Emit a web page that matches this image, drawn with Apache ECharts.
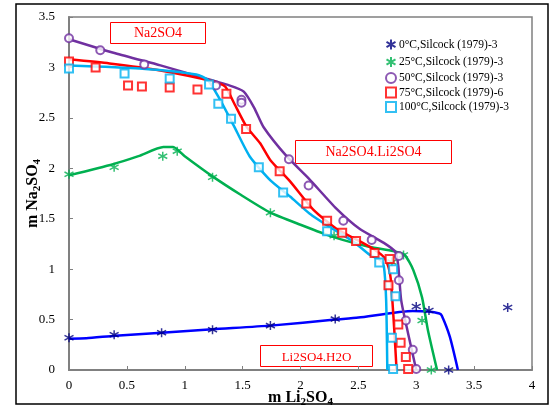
<!DOCTYPE html>
<html>
<head>
<meta charset="utf-8">
<script src="https://cdn.jsdelivr.net/npm/echarts@6/dist/echarts.min.js"></script>
<style>
  html, body { margin: 0; padding: 0; background: #fff; }
  #chart { width: 555px; height: 412px; }
</style>
</head>
<body>
<div id="chart"></div>
<script>
// 图例名称
var names = [
  "0°C,Silcock (1979)-3",
  "25°C,Silcock (1979)-3",
  "50°C,Silcock (1979)-3",
  "75°C,Silcock (1979)-6",
  "100°C,Silcock (1979)-3"
];

// 实验点 [m Li2SO4, m Na2SO4]
var pts0 = [[0,0.32],[0.39,0.35],[0.8,0.37],[1.24,0.40],[1.74,0.44],[2.3,0.505],[3.0,0.63],[3.11,0.59],[3.28,0],[3.79,0.62]];
var pts25 = [[0,1.94],[0.39,2.01],[0.81,2.12],[0.935,2.17],[1.24,1.91],[1.74,1.56],[2.29,1.33],[2.79,1.07],[2.89,1.14],[3.05,0.49],[3.13,0]];
var pts50 = [[0,3.29],[0.27,3.17],[0.65,3.03],[1.27,2.82],[1.49,2.68],[1.49,2.65],[1.9,2.09],[2.07,1.83],[2.37,1.48],[2.615,1.29],[2.85,1.13],[2.85,0.89],[2.91,0.49],[2.97,0.2],[3.0,0.01]];
var pts75 = [[0,3.06],[0.23,3.0],[0.51,2.82],[0.63,2.81],[0.87,2.8],[1.11,2.78],[1.36,2.74],[1.53,2.39],[1.82,1.97],[2.05,1.65],[2.23,1.48],[2.36,1.36],[2.48,1.28],[2.64,1.16],[2.77,1.1],[2.76,0.84],[2.845,0.45],[2.865,0.27],[2.91,0.13],[2.93,0.01]];
var pts100 = [[0,2.99],[0.48,2.94],[0.87,2.89],[1.21,2.83],[1.29,2.64],[1.40,2.49],[1.64,2.01],[1.85,1.76],[2.23,1.375],[2.68,1.065],[2.80,1.0],[2.82,0.73],[2.79,0.32],[2.80,0.01]];

// 计算曲线
var line0 = [[0,0.31],[0.15,0.315],[0.4,0.34],[0.8,0.37],[1.24,0.405],[1.74,0.44],[2.3,0.5],[2.5,0.52],[2.97,0.585],[3.1,0.58],[3.2,0.56],[3.22,0.54],[3.29,0.33],[3.36,0]];
var line25 = [[0,1.93],[0.38,2.04],[0.6,2.12],[0.815,2.21],[0.9,2.21],[1.0,2.12],[1.24,1.92],[1.48,1.74],[1.74,1.56],[2.0,1.44],[2.28,1.32],[2.6,1.22],[2.8,1.18],[2.9,1.14],[2.975,0.99],[3.05,0.72],[3.10,0.40],[3.18,0]];
var line50 = [[0,3.28],[0.4,3.14],[0.79,3.02],[1.0,2.95],[1.39,2.82],[1.51,2.76],[1.6,2.6],[1.68,2.41],[1.88,2.12],[2.07,1.9],[2.31,1.60],[2.51,1.40],[2.72,1.26],[2.82,1.17],[2.845,1.03],[2.87,0.69],[2.93,0.36],[3.0,0]];
var line75 = [[0,3.08],[0.35,3.04],[0.79,2.97],[1.25,2.86],[1.35,2.81],[1.42,2.66],[1.535,2.41],[1.65,2.25],[1.74,2.08],[1.91,1.87],[2.11,1.59],[2.31,1.40],[2.49,1.29],[2.63,1.20],[2.72,1.12],[2.76,1.02],[2.78,0.9],[2.81,0.4],[2.83,0]];
var line100 = [[0,3.02],[0.61,2.99],[1.1,2.93],[1.2,2.875],[1.3,2.69],[1.42,2.43],[1.56,2.12],[1.74,1.88],[1.91,1.72],[2.08,1.55],[2.25,1.42],[2.46,1.27],[2.6,1.14],[2.69,1.09],[2.72,1.03],[2.74,0.69],[2.75,0]];

var markColors = ["#000080", "#00B050", "#7030A0", "#FF0000", "#00B0F0"];
var lineColors = ["#0000FF", "#00B050", "#7030A0", "#FF0000", "#00B0F0"];
var allPts = [pts0, pts25, pts50, pts75, pts100];
var allLines = [line0, line25, line50, line75, line100];

var star = "path://M0,-5L0,5M-4.5,-2.6L4.5,2.6M-4.5,2.6L4.5,-2.6";
var symbols = [star, star, "emptyCircle", "emptyRect", "emptyRect"];

var serif = "Liberation Serif";

var myChart = echarts.init(document.getElementById("chart"));

var series = [];
allLines.forEach(function (d, i) {
  series.push({
    type: "line",
    data: d,
    showSymbol: false,
    symbol: "none",
    smooth: 0.2,
    lineStyle: { color: lineColors[i], width: 2.5 },
    z: 2,
    silent: true
  });
});
allPts.forEach(function (d, i) {
  var isStar = i < 2;
  series.push({
    name: names[i],
    type: "scatter",
    data: d,
    symbol: symbols[i],
    symbolSize: isStar ? 9 : 8,
    itemStyle: isStar
      ? { color: "none", borderColor: markColors[i], borderWidth: 1.5 }
      : { color: markColors[i], borderWidth: 1.2 },
    z: 3
  });
});

var nameRich = {
  b: { fontFamily: serif, fontSize: 16, fontWeight: "bold", color: "#000", lineHeight: 20 },
  s: { fontFamily: serif, fontSize: 11, fontWeight: "bold", color: "#000", lineHeight: 20, padding: [9, 0, 0, 0] }
};

option = {
  animation: false,
  textStyle: { fontFamily: serif },
  graphic: [
    {
      type: "rect",
      shape: { x: 16, y: 4, width: 532, height: 400 },
      style: { fill: "none", stroke: "#000", lineWidth: 1.5 },
      z: 0
    },
    {
      type: "group", left: 110, top: 22, z: 10,
      children: [
        { type: "rect", shape: { x: 0, y: 0, width: 95, height: 21 }, style: { fill: "#fff", stroke: "#FF0000", lineWidth: 1 } },
        { type: "text", x: 47.5, y: 11, style: { text: "Na2SO4", fill: "#FF0000", font: "14px " + serif, align: "center", verticalAlign: "middle" } }
      ]
    },
    {
      type: "group", left: 295, top: 140, z: 10,
      children: [
        { type: "rect", shape: { x: 0, y: 0, width: 156, height: 23 }, style: { fill: "#fff", stroke: "#FF0000", lineWidth: 1 } },
        { type: "text", x: 78, y: 12, style: { text: "Na2SO4.Li2SO4", fill: "#FF0000", font: "14px " + serif, align: "center", verticalAlign: "middle" } }
      ]
    },
    {
      type: "group", left: 260, top: 345, z: 10,
      children: [
        { type: "rect", shape: { x: 0, y: 0, width: 112, height: 21 }, style: { fill: "#fff", stroke: "#FF0000", lineWidth: 1 } },
        { type: "text", x: 56, y: 12, style: { text: "Li2SO4.H2O", fill: "#FF0000", font: "13px " + serif, align: "center", verticalAlign: "middle" } }
      ]
    }
  ],
  legend: {
    orient: "vertical",
    left: 384,
    top: 37,
    padding: 0,
    itemWidth: 10,
    itemHeight: 10,
    itemGap: 2.5,
    data: names,
    textStyle: { fontFamily: serif, fontSize: 11.5, lineHeight: 10, color: "#000", padding: [0, 0, 0, -2] }
  },
  grid: {
    left: 69,
    top: 17,
    right: 23,
    bottom: 42,
    outerBoundsMode: "none",
    containLabel: false,
    show: true,
    borderColor: "#808080",
    borderWidth: 1.5,
    backgroundColor: "transparent"
  },
  xAxis: {
    type: "value",
    min: 0,
    max: 4,
    interval: 0.5,
    name: "{b|m Li}{s|2}{b|SO}{s|4}",
    nameLocation: "middle",
    nameGap: 18,
    nameMoveOverlap: false,
    nameTextStyle: { rich: nameRich },
    axisLine: { lineStyle: { color: "#808080", width: 2 } },
    axisTick: { inside: true, length: 4, lineStyle: { color: "#808080" } },
    splitLine: { show: false },
    axisLabel: { color: "#000", fontSize: 13, fontFamily: serif, margin: 9 }
  },
  yAxis: {
    type: "value",
    min: 0,
    max: 3.5,
    interval: 0.5,
    name: "{b|m Na}{s|2}{b|SO}{s|4}",
    nameLocation: "middle",
    nameGap: 26,
    nameMoveOverlap: false,
    nameRotate: 90,
    nameTextStyle: { rich: nameRich },
    axisLine: { show: true, lineStyle: { color: "#808080", width: 2 } },
    axisTick: { show: true, inside: true, length: 4, lineStyle: { color: "#808080" } },
    splitLine: { show: false },
    axisLabel: { color: "#000", fontSize: 13, fontFamily: serif, margin: 14 }
  },
  series: series
};

myChart.setOption(option);
</script>
</body>
</html>
